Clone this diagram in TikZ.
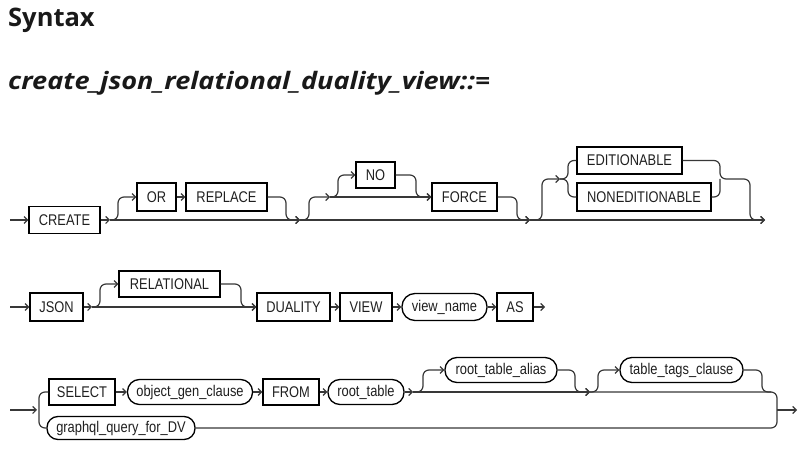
\documentclass[tikz,border=0pt]{standalone}
\usepackage{fontspec}
\usetikzlibrary{arrows.meta}
\newfontfamily\titlefont{Open Sans}
\newfontfamily\titlewide[FakeStretch=1.13]{Open Sans}
\newfontfamily\rrfont[FakeStretch=0.83]{Liberation Sans}
\begin{document}
\begin{tikzpicture}[x=1pt,y=-1pt,
  kw/.style={draw=black, line width=1.3pt, rectangle, minimum height=27pt, inner sep=0pt,
    font=\rrfont\fontsize{15.5}{16}\selectfont, text=black!88},
  nt/.style={kw, rounded corners=12pt, minimum height=25pt},
  rail/.style={draw=black!78, line width=1.2pt, rounded corners=6pt},
  arr/.style={-{Straight Barb[length=3.5pt,width=7pt]}},
  ttl/.style={anchor=base west, inner sep=0pt, text=black!90}]
\useasboundingbox (0,0) rectangle (807,449);

% titles
\node[ttl, font=\titlefont\bfseries\fontsize{25.5}{26}\selectfont] (syntax) at (8,27) {Syntax};
\node[ttl, font=\titlewide\bfseries\itshape\fontsize{24}{24}\selectfont] (prod) at (8,90) {create\_json\_relational\_duality\_view::=};

% ---------- row 1 ----------
\node[kw, minimum width=71pt] (create) at (64.5,220) {CREATE};
\node[kw, minimum width=39pt, minimum height=28pt] (or) at (156.5,197) {OR};
\node[kw, minimum width=81pt, minimum height=28pt] (replace) at (226.5,197) {REPLACE};
\node[kw, minimum width=39pt, minimum height=26pt] (no) at (375.5,175) {NO};
\node[kw, minimum width=65pt, minimum height=28pt] (force) at (464.5,197) {FORCE};
\node[kw, minimum width=105pt] (edit) at (629.5,160.5) {EDITIONABLE};
\node[kw, minimum width=134pt, minimum height=28pt] (nonedit) at (644,197) {NONEDITIONABLE};

\coordinate (s1) at (10,220);
\coordinate (j1) at (110,220);
\coordinate (j2) at (300,220);
\coordinate (j3) at (330,197);
\coordinate (j4) at (530,220);
\coordinate (j5) at (560,179);
\coordinate (e1) at (765,220);

\draw[rail,arr] (s1) -- (create.west);
\draw[rail,arr] (create.east) -- (j1);
\draw[rail,arr] (j1) -- (j2);
\draw[rail,arr] (j1) -- (118,220) -- (118,197) -- (or.west);
\draw[rail,arr] (or.east) -- (replace.west);
\draw[rail,arr] (replace.east) -- (286,197) -- (286,220) -- (j2);
\draw[rail,arr] (j2) -- (309,220) -- (309,197) -- (j3);
\draw[rail,arr] (j3) -- (338,197) -- (338,175) -- (no.west);
\draw[rail,arr] (j3) -- (force.west);
\draw[rail,arr] (no.east) -- (416,175) -- (416,197) -- (force.west);
\draw[rail,arr] (force.east) -- (517,197) -- (517,220) -- (j4);
\draw[rail,arr] (j2) -- (j4);
\draw[rail,arr] (j4) -- (542,220) -- (542,179) -- (j5);
\draw[rail] (j5) -- (568,179) -- (568,160.5) -- (edit.west);
\draw[rail] (j5) -- (568,179) -- (568,197) -- (nonedit.west);
\draw[rail,arr] (edit.east) -- (720,160.5) -- (720,179) -- (750,179) -- (750,220) -- (e1);
\draw[rail] (nonedit.east) -- (720,197) -- (720,179);
\draw[rail,arr] (j4) -- (e1);

% ---------- row 2 ----------
\node[kw, minimum width=53pt, minimum height=28pt] (json) at (56.5,307) {JSON};
\node[kw, minimum width=101pt, minimum height=26pt] (relational) at (169.5,284) {RELATIONAL};
\node[kw, minimum width=73pt, minimum height=28pt] (duality) at (293.5,307) {DUALITY};
\node[kw, minimum width=52pt, minimum height=28pt] (view) at (366,307) {VIEW};
\node[nt, minimum width=85pt, minimum height=27pt, rounded corners=13pt] (viewname) at (444.5,307) {view\_name};
\node[kw, minimum width=36pt, minimum height=28pt] (as) at (515,307) {AS};

\coordinate (s2) at (10,307);
\coordinate (j6) at (92,307);
\coordinate (e2) at (545,307);

\draw[rail,arr] (s2) -- (json.west);
\draw[rail,arr] (json.east) -- (j6);
\draw[rail,arr] (j6) -- (duality.west);
\draw[rail,arr] (j6) -- (100,307) -- (100,284) -- (relational.west);
\draw[rail,arr] (relational.east) -- (241,284) -- (241,307) -- (duality.west);
\draw[rail,arr] (duality.east) -- (view.west);
\draw[rail,arr] (view.east) -- (viewname.west);
\draw[rail,arr] (viewname.east) -- (as.west);
\draw[rail,arr] (as.east) -- (e2);

% ---------- row 3 ----------
\node[kw, minimum width=66pt, minimum height=26pt] (select) at (82,392) {SELECT};
\node[nt, minimum width=125pt] (ogc) at (190,392) {object\_gen\_clause};
\node[kw, minimum width=56pt, minimum height=26pt] (from) at (291,392) {FROM};
\node[nt, minimum width=76pt] (roottable) at (366,392) {root\_table};
\node[nt, minimum width=112pt] (alias) at (501,370) {root\_table\_alias};
\node[nt, minimum width=123pt] (tags) at (681.5,370) {table\_tags\_clause};
\node[nt, minimum width=148pt, minimum height=23pt, rounded corners=11pt] (graphql) at (121,428) {graphql\_query\_for\_DV};

\coordinate (s3) at (10,410);
\coordinate (b3) at (37,410);
\coordinate (j7) at (413,392);
\coordinate (j8) at (590,392);
\coordinate (x3) at (777,410);
\coordinate (e3) at (797,410);

\draw[rail,arr] (s3) -- (b3);
\draw[rail] (select.west) -- (39,392) -- (39,428) -- (graphql.west);
\draw[rail,arr] (select.east) -- (ogc.west);
\draw[rail,arr] (ogc.east) -- (from.west);
\draw[rail,arr] (from.east) -- (roottable.west);
\draw[rail,arr] (roottable.east) -- (j7);
\draw[rail,arr] (j7) -- (j8);
\draw[rail,arr] (j7) -- (423,392) -- (423,370) -- (alias.west);
\draw[rail,arr] (alias.east) -- (575,370) -- (575,392) -- (j8);
\draw[rail,arr] (j8) -- (598,392) -- (598,370) -- (tags.west);
\draw[rail] (tags.east) -- (762,370) -- (762,392) -- (771,392);
\draw[rail] (j8) -- (777,392) -- (777,428) -- (graphql.east);
\draw[rail,arr] (x3) -- (e3);
\end{tikzpicture}
\end{document}
